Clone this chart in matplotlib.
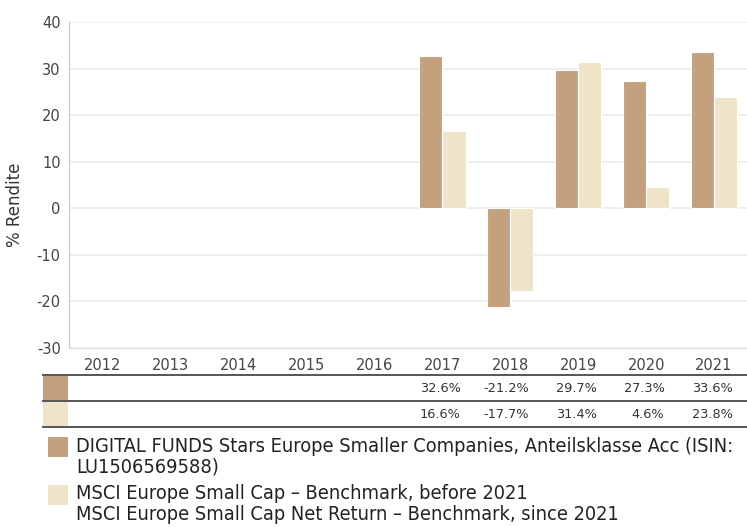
import numpy as np
import matplotlib
matplotlib.use('Agg')
import matplotlib.pyplot as plt
from matplotlib.patches import Rectangle
from matplotlib.lines import Line2D
from matplotlib import transforms

plt.rcParams['axes.unicode_minus'] = False

years = ['2012', '2013', '2014', '2015', '2016', '2017', '2018', '2019', '2020', '2021']
fund = [None, None, None, None, None, 32.6, -21.2, 29.7, 27.3, 33.6]
bench = [None, None, None, None, None, 16.6, -17.7, 31.4, 4.6, 23.8]
fund_label = 'DIGITAL FUNDS Stars Europe Smaller Companies, Anteilsklasse Acc (ISIN:\nLU1506569588)'
bench_label = 'MSCI Europe Small Cap \u2013 Benchmark, before 2021\nMSCI Europe Small Cap Net Return \u2013 Benchmark, since 2021'

c_fund = '#c4a07f'
c_bench = '#efe3c8'
W, H = 747, 527

fig = plt.figure(figsize=(W / 100, H / 100), dpi=100)
ax = fig.add_axes([69 / W, 1 - 348 / H, 679 / W, 326 / H])

x = np.arange(len(years))
bw = 0.34
fx = [i for i, v in zip(x, fund) if v is not None]
fv = [v for v in fund if v is not None]
bx = [i for i, v in zip(x, bench) if v is not None]
bv = [v for v in bench if v is not None]
ax.bar(np.array(fx) - bw / 2, fv, bw, color=c_fund, edgecolor='white', lw=0.8, zorder=3)
ax.bar(np.array(bx) + bw / 2, bv, bw, color=c_bench, edgecolor='white', lw=0.8, zorder=3)

ax.set_xlim(-0.5, len(years) - 0.5)
ax.set_ylim(-30, 40)
ax.set_yticks(range(-30, 41, 10))
ax.set_xticks(x)
ax.set_xticklabels(years)
ax.tick_params(length=0, labelsize=10.5, colors='#444444')
ax.tick_params(axis='x', pad=7)
ax.tick_params(axis='y', pad=6)
ax.grid(axis='y', color='#ebebeb', lw=1.2, zorder=0)
for s in ['top', 'right']:
    ax.spines[s].set_visible(False)
ax.spines['left'].set_color('#c8c8c8')
ax.spines['bottom'].set_color('#dddddd')
ax.set_ylabel('% Rendite', fontsize=12, color='#333333')
ax.yaxis.set_label_coords(-0.066, 0.44)

# table below the chart
trans = transforms.blended_transform_factory(ax.transData, fig.transFigure)
for yl in [375, 401, 427]:
    fig.add_artist(Line2D([43 / W, 1], [1 - yl / H] * 2, color='#555555', lw=1.4))
fig.add_artist(Rectangle((43 / W, 1 - 400 / H), 25 / W, 24 / H, color=c_fund, lw=0))
fig.add_artist(Rectangle((43 / W, 1 - 426 / H), 25 / W, 24 / H, color=c_bench, lw=0))
for row, vals in zip([389, 415], [fund, bench]):
    for i, v in enumerate(vals):
        if v is None:
            continue
        fig.text(i + 0.27, 1 - row / H, '%.1f%%' % v, transform=trans,
                 ha='right', va='center', fontsize=9.3, color='#333333')

# legend
fig.add_artist(Rectangle((48 / W, 1 - 457 / H), 20 / W, 20 / H, color=c_fund, lw=0))
fig.text(76 / W, 1 - 437 / H, fund_label, ha='left', va='top', fontsize=14.3,
         family='DejaVu Sans', stretch='condensed', color='#222222', linespacing=1.1)
fig.add_artist(Rectangle((48 / W, 1 - 505 / H), 20 / W, 20 / H, color=c_bench, lw=0))
fig.text(76 / W, 1 - 484 / H, bench_label, ha='left', va='top', fontsize=14.3,
         family='DejaVu Sans', stretch='condensed', color='#222222', linespacing=1.1)

fig.savefig('out.png', dpi=100)
